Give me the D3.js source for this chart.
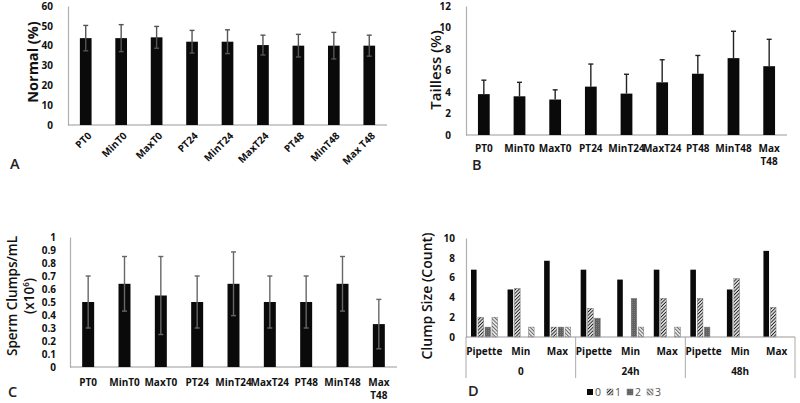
<!DOCTYPE html>
<html>
<head>
<meta charset="utf-8">
<script src="https://cdn.jsdelivr.net/npm/d3@7"></script>
<style>
  body { margin: 0; background: #fff; }
  svg { display: block; font-family: "Open Sans", sans-serif; }
</style>
</head>
<body>
<div class="fig"></div>
<script>
// treatment labels shared by A, B, C
const treatments = ["PT0", "MinT0", "MaxT0", "PT24", "MinT24", "MaxT24", "PT48", "MinT48", "Max T48"]

// A: normal (%)
const normalMean = [43.8, 43.8, 44.2, 42, 42, 40.3, 40, 40, 40]
const normalSd = [6.4, 6.8, 5.5, 5.7, 6, 5, 5.7, 6.7, 5.3]
const normalTicks = [0, 10, 20, 30, 40, 50, 60]

// B: tailless (%)
const taillessMean = [3.8, 3.6, 3.3, 4.5, 3.85, 4.9, 5.7, 7.15, 6.4]
const taillessSd = [1.3, 1.3, 0.9, 2.1, 1.8, 2.1, 1.7, 2.5, 2.5]
const taillessTicks = [0, 2, 4, 6, 8, 10, 12]

// C: sperm clumps/mL (x10^6)
const clumpsMean = [0.5, 0.64, 0.55, 0.5, 0.64, 0.5, 0.5, 0.64, 0.33]
const clumpsSd = [0.2, 0.21, 0.3, 0.2, 0.245, 0.2, 0.2, 0.21, 0.19]

// D: clump size counts
const hours = ["0", "24h", "48h"]
const methods = ["Pipette", "Min", "Max"]
const sizes = ["0", "1", "2", "3"]
const size0 = [6.8, 4.8, 7.7, 6.8, 5.8, 6.8, 6.8, 4.8, 8.7]
const size1 = [2, 4.9, 1, 2.9, 0, 3.9, 3.9, 5.9, 3]
const size2 = [1, 0, 1, 1.9, 3.9, 0, 1, 0, 0]
const size3 = [2, 1, 1, 0, 1, 1, 0, 0, 0]
const clumpTicks = [0, 2, 4, 6, 8, 10]

const tickFont = 10

const svg = d3.select('.fig').append('svg')
    .attr('width', 800)
    .attr('height', 403)

// hatch patterns for the clump size series
const defs = svg.append('defs')
const p1 = defs.append('pattern').attr('id', 'hatch1')
    .attr('width', 2.4).attr('height', 2.4)
    .attr('patternUnits', 'userSpaceOnUse')
    .attr('patternTransform', 'rotate(45)')
p1.append('rect').attr('width', 2.4).attr('height', 2.4).attr('fill', '#d8d8d8')
p1.append('line').attr('x1', 0).attr('y1', 0).attr('x2', 0).attr('y2', 2.4)
    .attr('stroke', '#1a1a1a').attr('stroke-width', 1.6)
const p2 = defs.append('pattern').attr('id', 'hatch2')
    .attr('width', 2).attr('height', 2)
    .attr('patternUnits', 'userSpaceOnUse')
p2.append('rect').attr('width', 2).attr('height', 2).attr('fill', '#606060')
p2.append('rect').attr('width', 1).attr('height', 1).attr('fill', '#7a7a7a')
const p3 = defs.append('pattern').attr('id', 'hatch3')
    .attr('width', 2.6).attr('height', 2.6)
    .attr('patternUnits', 'userSpaceOnUse')
    .attr('patternTransform', 'rotate(-45)')
p3.append('rect').attr('width', 2.6).attr('height', 2.6).attr('fill', '#e4e4e4')
p3.append('line').attr('x1', 0).attr('y1', 0).attr('x2', 0).attr('y2', 2.6)
    .attr('stroke', '#333').attr('stroke-width', 1.3)
const sizeFill = ['#0a0a0a', 'url(#hatch1)', 'url(#hatch2)', 'url(#hatch3)']

// generic bar chart with error bars (panels A, B, C)
function barPanel(opt) {
    const x = d3.scaleBand().domain(treatments).range([opt.x0, opt.x1])
    const y = d3.scaleLinear().domain(opt.domain).range([opt.y0, opt.y1])
    const g = svg.append('g')

    const yAxis = d3.axisLeft(y).tickSize(0).tickPadding(opt.pad)
        .tickValues(opt.ticks).tickFormat(d3.format('~g'))
    const ya = g.append('g').attr('transform', `translate(${opt.x0},0)`).call(yAxis)
    ya.select('.domain').attr('stroke', '#b0b0b0').attr('stroke-width', 1.2)
    ya.selectAll('text').attr('font-size', tickFont).attr('font-weight', 700).attr('fill', '#111')
        .attr('font-family', '"Open Sans", sans-serif')

    g.append('line')
        .attr('x1', opt.x0).attr('x2', opt.x1)
        .attr('y1', y(0)).attr('y2', y(0))
        .attr('stroke', '#999').attr('stroke-width', 1.2)

    const bw = x.bandwidth() * 0.33
    const cx = (d) => x(d) + x.bandwidth() / 2

    g.selectAll('rect.bar').data(treatments).enter().append('rect')
        .attr('x', (d) => cx(d) - bw / 2)
        .attr('width', bw)
        .attr('y', (d, i) => y(opt.mean[i]))
        .attr('height', (d, i) => y(0) - y(opt.mean[i]))
        .attr('fill', '#0a0a0a')

    // error bars
    const lo = (i) => opt.upOnly ? opt.mean[i] : opt.mean[i] - opt.sd[i]
    g.selectAll('line.err').data(treatments).enter().append('line')
        .attr('x1', cx).attr('x2', cx)
        .attr('y1', (d, i) => y(lo(i)))
        .attr('y2', (d, i) => y(opt.mean[i] + opt.sd[i]))
        .attr('stroke', opt.errColor).attr('stroke-width', 1.4)
    g.selectAll('line.capTop').data(treatments).enter().append('line')
        .attr('x1', (d) => cx(d) - 2.5).attr('x2', (d) => cx(d) + 2.5)
        .attr('y1', (d, i) => y(opt.mean[i] + opt.sd[i]))
        .attr('y2', (d, i) => y(opt.mean[i] + opt.sd[i]))
        .attr('stroke', opt.errColor).attr('stroke-width', 1.4)
    if (!opt.upOnly) {
        g.selectAll('line.capBot').data(treatments).enter().append('line')
            .attr('x1', (d) => cx(d) - 2.5).attr('x2', (d) => cx(d) + 2.5)
            .attr('y1', (d, i) => y(lo(i)))
            .attr('y2', (d, i) => y(lo(i)))
            .attr('stroke', opt.errColor).attr('stroke-width', 1.4)
    }

    // category labels
    const labels = g.selectAll('text.cat').data(treatments).enter().append('text')
        .attr('font-size', tickFont).attr('font-weight', 700).attr('fill', '#111')
    if (opt.rotate) {
        labels.attr('transform', (d) => `translate(${cx(d) + 4},${opt.labelY}) rotate(-45)`)
            .attr('text-anchor', 'end').attr('dy', '0.35em')
            .text((d) => d)
    } else {
        labels.attr('text-anchor', 'middle')
            .each(function (d) {
                const parts = d.split(' ')
                const t = d3.select(this)
                parts.forEach((p, k) => {
                    t.append('tspan').attr('x', cx(d)).attr('y', opt.labelY + k * 13).text(p)
                })
            })
    }
    return g
}

barPanel({
    x0: 68, x1: 387, y0: 125, y1: 6, domain: [0, 60], ticks: normalTicks, pad: 15,
    mean: normalMean, sd: normalSd, errColor: '#555', rotate: true, labelY: 134
})
barPanel({
    x0: 466, x1: 787, y0: 135, y1: 6, domain: [0, 12], ticks: taillessTicks, pad: 15,
    mean: taillessMean, sd: taillessSd, errColor: '#222', upOnly: true, labelY: 152
})
barPanel({
    x0: 70, x1: 397, y0: 367, y1: 237, domain: [0, 1], ticks: d3.ticks(0, 1, 10), pad: 14,
    mean: clumpsMean, sd: clumpsSd, errColor: '#666', labelY: 386
})

// panel D: grouped bars with two-level axis
const subcats = []
hours.forEach((h) => methods.forEach((m) => subcats.push(h + '|' + m)))
const series = [size0, size1, size2, size3]

const xD = d3.scaleBand().domain(subcats).range([466, 795])
const xS = d3.scaleBand().domain(sizes).range([5, xD.bandwidth() - 5]).paddingInner(0.2)
const yD = d3.scaleLinear().domain([0, 10]).range([337, 238])
const gD = svg.append('g')

const yAxisD = d3.axisLeft(yD).tickSize(0).tickPadding(11).tickValues(clumpTicks)
const yaD = gD.append('g').attr('transform', 'translate(466,0)').call(yAxisD)
yaD.select('.domain').attr('stroke', '#b0b0b0').attr('stroke-width', 1.2)
yaD.selectAll('text').attr('font-size', tickFont).attr('font-weight', 700).attr('fill', '#111')
    .attr('font-family', '"Open Sans", sans-serif')

series.forEach((vals, s) => {
    gD.selectAll('rect.s' + s).data(subcats).enter().append('rect')
        .attr('x', (d) => xD(d) + xS(sizes[s]))
        .attr('width', xS.bandwidth())
        .attr('y', (d, i) => yD(vals[i]))
        .attr('height', (d, i) => yD(0) - yD(vals[i]))
        .attr('fill', sizeFill[s])
        .attr('stroke', s === 0 ? 'none' : '#777')
        .attr('stroke-width', 0.5)
})

gD.append('line').attr('x1', 466).attr('x2', 795).attr('y1', yD(0)).attr('y2', yD(0))
    .attr('stroke', '#999').attr('stroke-width', 1.2)

// group separators
const edges = hours.map((h) => xD(h + '|Pipette')).concat([795])
gD.selectAll('line.sep').data(edges).enter().append('line')
    .attr('x1', (d) => d).attr('x2', (d) => d)
    .attr('y1', yD(0)).attr('y2', 378)
    .attr('stroke', '#aaa').attr('stroke-width', 1)

gD.selectAll('text.sub').data(subcats).enter().append('text')
    .attr('x', (d) => xD(d) + xD.bandwidth() / 2)
    .attr('y', 355)
    .attr('text-anchor', 'middle')
    .attr('font-size', tickFont).attr('font-weight', 700).attr('fill', '#111')
    .text((d) => d.split('|')[1])

gD.selectAll('text.grp').data(hours).enter().append('text')
    .attr('x', (d) => xD(d + '|Min') + xD.bandwidth() / 2)
    .attr('y', 375)
    .attr('text-anchor', 'middle')
    .attr('font-size', tickFont).attr('font-weight', 700).attr('fill', '#111')
    .text((d) => d)

// legend
const leg = gD.selectAll('g.leg').data(sizes).enter().append('g')
    .attr('transform', (d, i) => `translate(${587 + i * 20},389)`)
leg.append('rect').attr('width', 6).attr('height', 6)
    .attr('fill', (d, i) => sizeFill[i])
    .attr('stroke', (d, i) => i === 0 ? 'none' : '#777').attr('stroke-width', 0.5)
leg.append('text').attr('x', 8).attr('y', 6.5)
    .attr('font-size', 10.5).attr('fill', '#555').text((d) => d)

// axis titles
function yTitle(lines, x, y, size, weight) {
    const t = svg.append('text')
        .attr('transform', `translate(${x},${y}) rotate(-90)`)
        .attr('text-anchor', 'middle')
        .attr('font-size', size).attr('font-weight', weight).attr('fill', '#111')
    lines.forEach((l, k) => {
        t.append('tspan').attr('x', 0).attr('dy', k === 0 ? 0 : size * 1.25).text(l)
    })
    return t
}
yTitle(['Normal (%)'], 38, 62, 14.5, 700)
yTitle(['Tailless (%)'], 441, 70, 15, 600)
yTitle(['Sperm Clumps/mL'], 17, 296, 13.5, 600)
const tc2 = svg.append('text')
    .attr('transform', 'translate(34,296) rotate(-90)')
    .attr('text-anchor', 'middle')
    .attr('font-size', 13.5).attr('font-weight', 600).attr('fill', '#111')
tc2.append('tspan').text('(x10')
tc2.append('tspan').attr('font-size', 8).attr('dy', -5).text('6')
tc2.append('tspan').attr('dy', 5).text(')')
yTitle(['Clump Size (Count)'], 432, 296, 14, 600)

// panel letters
const letters = [['A', 10, 169], ['B', 472, 170], ['C', 8, 397], ['D', 468, 396]]
svg.selectAll('text.letter').data(letters).enter().append('text')
    .attr('x', (d) => d[1]).attr('y', (d) => d[2])
    .attr('font-size', 14.5).attr('font-weight', 600).attr('fill', '#222')
    .text((d) => d[0])
</script>
</body>
</html>
